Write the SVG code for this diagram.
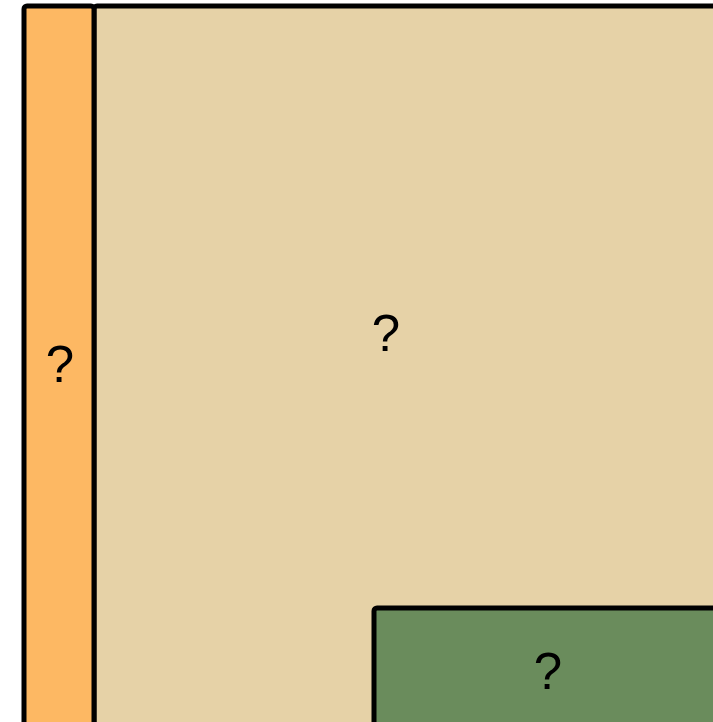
<svg xmlns="http://www.w3.org/2000/svg" width="713" height="722" viewBox="0 0 713 722">
<style>
.box{stroke:#000;stroke-width:5;stroke-linejoin:round}
.lbl{font-family:"Liberation Sans",Arial,sans-serif;font-size:51px;fill:#000;text-anchor:middle}
</style>
<rect width="713" height="722" fill="#fff"/>
<g id="main">
<rect class="box" x="94" y="6" width="640" height="740" rx="3" fill="#e6d2a7"/>
<text class="lbl" x="386" y="351">?</text>
</g>
<g id="side">
<rect class="box" x="24" y="6" width="70" height="740" rx="3" fill="#fdb863"/>
<text class="lbl" x="60" y="382">?</text>
</g>
<g id="bottom">
<rect class="box" x="374" y="608" width="360" height="140" rx="3" fill="#6a8c5c"/>
<text class="lbl" x="548" y="689">?</text>
</g>
<g id="connectors"/>
</svg>
